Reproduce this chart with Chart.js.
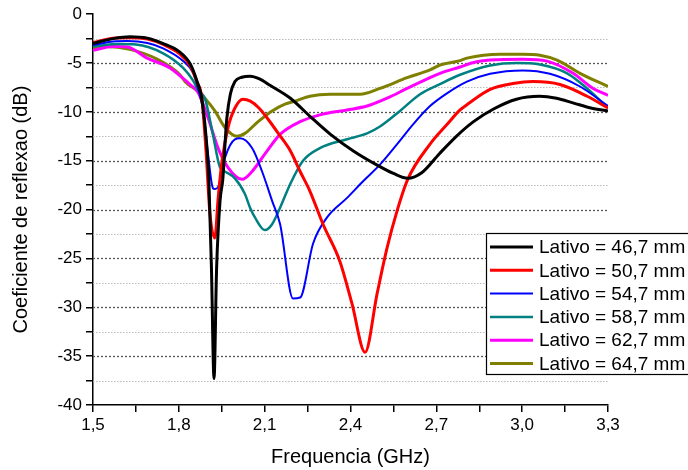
<!DOCTYPE html>
<html>
<head>
<meta charset="utf-8">
<script src="https://cdn.jsdelivr.net/npm/chart.js@4"></script>
<style>
  html, body { margin: 0; padding: 0; background: #fff; }
  #wrap { width: 688px; height: 470px; }
</style>
</head>
<body>
<div id="wrap"><canvas id="s11Chart" width="688" height="470"></canvas></div>
<script>
// reflection coefficient curves (GHz, dB)
const labels = ['Lativo = 46,7 mm', 'Lativo = 50,7 mm', 'Lativo = 54,7 mm',
                'Lativo = 58,7 mm', 'Lativo = 62,7 mm', 'Lativo = 64,7 mm'];

const freq467 = [1.5, 1.57, 1.63, 1.69, 1.745, 1.80, 1.84, 1.864, 1.88, 1.895, 1.905, 1.914, 1.923, 1.932, 1.944, 1.954, 1.962, 1.968, 1.98, 1.996, 2.02, 2.05, 2.08, 2.12, 2.19, 2.26, 2.33, 2.41, 2.49, 2.55, 2.60, 2.65, 2.71, 2.77, 2.83, 2.90, 2.98, 3.06, 3.12, 3.18, 3.24, 3.3];
const s467 = [-3.0, -2.5, -2.3, -2.45, -3.0, -3.8, -5.1, -6.9, -8.6, -12.5, -17, -26, -37.3, -26, -19.1, -16.8, -13, -10.6, -8.2, -6.9, -6.45, -6.35, -6.6, -7.3, -8.6, -10.5, -12.3, -14, -15.4, -16.3, -16.8, -16.2, -14.3, -12.5, -11.0, -9.7, -8.7, -8.4, -8.6, -9.1, -9.6, -9.9];

const freq507 = [1.5, 1.57, 1.63, 1.69, 1.745, 1.80, 1.84, 1.864, 1.88, 1.895, 1.909, 1.926, 1.937, 1.951, 1.972, 1.996, 2.024, 2.05, 2.08, 2.108, 2.15, 2.19, 2.224, 2.258, 2.304, 2.363, 2.405, 2.451, 2.493, 2.528, 2.563, 2.60, 2.678, 2.737, 2.783, 2.81, 2.888, 2.968, 3.038, 3.132, 3.227, 3.3];
const s507 = [-2.9, -2.45, -2.4, -2.55, -3.1, -4.0, -5.3, -7.0, -8.5, -14, -20.5, -22.9, -19, -15, -11.6, -9.6, -8.7, -8.9, -9.6, -10.6, -12.3, -14.0, -16.1, -18.1, -21.5, -25.3, -29.6, -34.6, -28.6, -23.9, -20.1, -16.9, -13.3, -11.3, -9.8, -9.2, -7.7, -7.1, -6.9, -7.2, -8.4, -9.6];

const freq547 = [1.5, 1.57, 1.62, 1.69, 1.745, 1.815, 1.85, 1.867, 1.885, 1.902, 1.919, 1.926, 1.937, 1.961, 1.996, 2.014, 2.056, 2.091, 2.126, 2.154, 2.199, 2.224, 2.269, 2.318, 2.388, 2.444, 2.503, 2.563, 2.618, 2.678, 2.737, 2.807, 2.888, 3.003, 3.097, 3.202, 3.3];
const s547 = [-3.15, -2.8, -2.75, -2.95, -3.5, -4.8, -6.0, -7.6, -9.9, -14.3, -17.8, -17.9, -17.7, -14.7, -12.8, -12.7, -13.7, -16.1, -19.1, -21.5, -29.1, -29.0, -23.5, -20.8, -18.8, -17.1, -15.4, -13.3, -11.3, -9.4, -8.1, -6.9, -6.1, -5.75, -6.1, -7.4, -9.4];

const freq587 = [1.5, 1.59, 1.65, 1.745, 1.815, 1.85, 1.87, 1.891, 1.919, 1.944, 1.961, 1.996, 2.031, 2.049, 2.066, 2.101, 2.126, 2.154, 2.189, 2.234, 2.293, 2.388, 2.458, 2.503, 2.573, 2.643, 2.713, 2.783, 2.888, 2.982, 3.062, 3.157, 3.227, 3.3];
const s587 = [-3.3, -3.05, -3.1, -4.0, -5.5, -6.8, -7.9, -8.6, -12.3, -15.7, -16.1, -16.8, -18.4, -19.8, -20.8, -22.1, -21.5, -19.8, -17.4, -15.0, -13.7, -12.8, -12.2, -11.5, -9.9, -8.2, -7.15, -6.2, -5.25, -5.0, -5.15, -6.05, -7.6, -9.6];

const freq627 = [1.5, 1.57, 1.62, 1.689, 1.769, 1.839, 1.867, 1.902, 1.937, 1.972, 2.021, 2.056, 2.101, 2.154, 2.224, 2.293, 2.388, 2.458, 2.528, 2.598, 2.678, 2.713, 2.783, 2.83, 2.888, 3.003, 3.087, 3.178, 3.248, 3.3];
const s627 = [-3.7, -3.3, -3.35, -4.5, -5.5, -7.2, -8.0, -10.6, -13.7, -15.7, -16.9, -16.1, -14.3, -12.3, -11.0, -10.3, -9.8, -9.4, -8.6, -7.6, -6.5, -6.05, -5.4, -4.95, -4.7, -4.6, -4.8, -6.05, -7.6, -8.3];

const freq647 = [1.5, 1.549, 1.629, 1.724, 1.804, 1.822, 1.867, 1.891, 1.926, 1.961, 2.003, 2.031, 2.077, 2.126, 2.171, 2.206, 2.258, 2.328, 2.433, 2.503, 2.598, 2.678, 2.713, 2.783, 2.807, 2.923, 3.003, 3.062, 3.122, 3.202, 3.3];
const s647 = [-3.5, -3.3, -3.6, -4.6, -6.2, -6.9, -7.9, -8.6, -9.9, -11.6, -12.5, -12.2, -11.0, -9.9, -9.2, -8.9, -8.4, -8.2, -8.2, -7.6, -6.5, -5.7, -5.2, -4.75, -4.5, -4.1, -4.1, -4.2, -4.7, -6.05, -7.4];

const colors = ['#000000', '#ff0000', '#0000ff', '#008080', '#ff00ff', '#808000'];
const widths = [3, 3, 2, 2.5, 3, 3];

const xTicksMajor = [1.5, 1.8, 2.1, 2.4, 2.7, 3.0, 3.3];

const FONT = "'Liberation Sans', Arial, sans-serif";

function pts(f, v) { return f.map((x, i) => ({ x: x, y: v[i] })); }

const series = [[freq467, s467], [freq507, s507], [freq547, s547], [freq587, s587], [freq627, s627], [freq647, s647]];

const datasets = series.map((s, i) => ({
    label: labels[i],
    data: pts(s[0], s[1]),
    borderColor: colors[i],
    backgroundColor: colors[i],
    borderWidth: widths[i],
    pointRadius: 0,
    cubicInterpolationMode: 'monotone',
    fill: false
}));

// dotted horizontal grid, darker on the labelled values
const dottedGrid = {
    id: 'dottedGrid',
    beforeDatasetsDraw(chart) {
        const { ctx, chartArea, scales } = chart;
        const y = scales.y;
        ctx.save();
        y.ticks.forEach(t => {
            if (t.value <= -40 || t.value >= 0) return;
            const py = Math.round(y.getPixelForValue(t.value)) + 0.5;
            const major = t.value % 5 === 0;
            ctx.strokeStyle = major ? '#555' : '#bbb';
            ctx.lineWidth = major ? 1.3 : 1;
            ctx.setLineDash(major ? [2, 2] : [1.5, 1.5]);
            ctx.beginPath();
            ctx.moveTo(chartArea.left, py);
            ctx.lineTo(chartArea.right, py);
            ctx.stroke();
        });
        ctx.restore();
    }
};

// legend box overlapping the lower right corner
const boxLegend = {
    id: 'boxLegend',
    afterDraw(chart) {
        const ctx = chart.ctx;
        const left = 486, top = 233, bottom = 374, rowH = 23.3;
        ctx.save();
        ctx.fillStyle = '#fff';
        ctx.fillRect(left, top, 260, bottom - top);
        ctx.strokeStyle = '#000';
        ctx.lineWidth = 1.2;
        ctx.strokeRect(left + 0.5, top + 0.5, 260, bottom - top);
        ctx.font = '19px ' + FONT;
        ctx.textBaseline = 'middle';
        chart.data.datasets.forEach((ds, i) => {
            const cy = top + 14 + i * rowH;
            ctx.strokeStyle = ds.borderColor;
            ctx.lineWidth = ds.borderWidth;
            ctx.beginPath();
            ctx.moveTo(490, cy);
            ctx.lineTo(533, cy);
            ctx.stroke();
            ctx.fillStyle = '#000';
            ctx.fillText(ds.label, 539, cy + 1);
        });
        ctx.restore();
    }
};

new Chart(document.getElementById('s11Chart'), {
    type: 'line',
    data: { datasets: datasets },
    plugins: [dottedGrid, boxLegend],
    options: {
        responsive: false,
        animation: false,
        layout: { padding: { top: 12, right: 80, bottom: 0, left: 0 } },
        plugins: { legend: { display: false }, tooltip: { enabled: false } },
        scales: {
            x: {
                type: 'linear',
                min: 1.5,
                max: 3.3,
                afterFit: s => { s.height = 65; },
                ticks: {
                    stepSize: 0.15,
                    autoSkip: false,
                    maxRotation: 0,
                    color: '#000',
                    padding: 3,
                    font: { family: FONT, size: 17 },
                    callback: v => xTicksMajor.some(m => Math.abs(m - v) < 1e-6) ? v.toFixed(1).replace('.', ',') : ''
                },
                grid: { drawOnChartArea: false, color: '#000', lineWidth: 1.5, tickLength: 7 },
                border: { color: '#000', width: 1.5 },
                title: {
                    display: true,
                    text: 'Frequencia (GHz)',
                    color: '#000',
                    font: { family: FONT, size: 20 },
                    padding: { top: 0, bottom: 1 }
                }
            },
            y: {
                min: -40,
                max: 0,
                afterFit: s => { s.width = 93; },
                ticks: {
                    stepSize: 2.5,
                    color: '#000',
                    padding: 4,
                    font: { family: FONT, size: 17 },
                    callback: v => v % 5 === 0 ? String(v) : ''
                },
                grid: { drawOnChartArea: false, color: '#000', lineWidth: 1.5, tickLength: 7 },
                border: { color: '#000', width: 1.5 },
                title: {
                    display: true,
                    text: 'Coeficiente de reflexao (dB)',
                    color: '#000',
                    font: { family: FONT, size: 20 },
                    padding: { top: 9, bottom: 0 }
                }
            }
        }
    }
});
</script>
</body>
</html>
